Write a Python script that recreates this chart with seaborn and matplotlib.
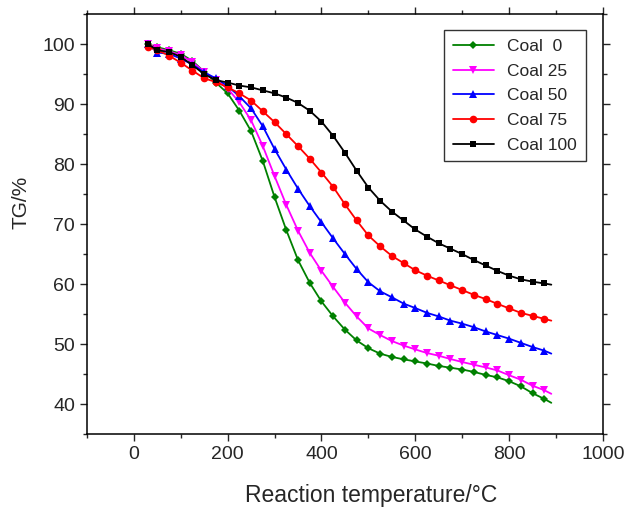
import matplotlib
matplotlib.use("Agg")
import matplotlib.pyplot as plt
from matplotlib.ticker import MultipleLocator
import seaborn as sns
import pandas as pd

# temperature grid (degC)
temp = [30, 50, 75, 100, 125, 150, 175, 200, 225, 250, 275, 300, 325, 350, 375,
        400, 425, 450, 475, 500, 525, 550, 575, 600, 625, 650, 675, 700, 725,
        750, 775, 800, 825, 850, 875, 890]

coal_0 = [100.0, 99.5, 99.0, 98.4, 97.2, 95.4, 93.6, 91.8, 88.9, 85.5, 80.5, 74.5,
          69.0, 64.0, 60.2, 57.1, 54.6, 52.4, 50.6, 49.3, 48.4, 47.85, 47.45, 47.1,
          46.75, 46.35, 46.05, 45.75, 45.35, 44.85, 44.45, 43.8, 42.95, 41.8, 40.85, 40.2]
coal_25 = [100.0, 99.3, 98.8, 98.2, 97.0, 95.4, 94.0, 92.6, 90.3, 87.3, 83.0, 78.0,
           73.2, 68.9, 65.2, 62.2, 59.5, 56.9, 54.6, 52.6, 51.5, 50.5, 49.75, 49.1,
           48.5, 48.05, 47.5, 47.0, 46.55, 46.1, 45.6, 44.8, 44.05, 43.05, 42.3, 41.7]
coal_50 = [100.0, 98.6, 98.4, 97.6, 96.6, 95.3, 94.3, 93.0, 91.3, 89.3, 86.3, 82.5,
           79.1, 75.9, 73.0, 70.3, 67.6, 65.0, 62.5, 60.3, 58.8, 57.8, 56.75, 56.0,
           55.2, 54.6, 53.9, 53.4, 52.8, 52.1, 51.5, 50.9, 50.2, 49.5, 48.9, 48.4]
coal_75 = [99.6, 99.0, 98.1, 96.9, 95.6, 94.3, 93.7, 92.8, 91.8, 90.6, 88.8, 87.0,
           85.0, 83.0, 80.9, 78.6, 76.2, 73.3, 70.6, 68.1, 66.3, 64.7, 63.5, 62.3,
           61.4, 60.6, 59.8, 59.0, 58.2, 57.5, 56.7, 55.95, 55.2, 54.7, 54.2, 53.9]
coal_100 = [100.0, 99.0, 98.7, 97.9, 96.5, 95.0, 94.0, 93.6, 93.1, 92.8, 92.3, 91.8,
            91.1, 90.2, 88.9, 87.1, 84.7, 81.9, 78.9, 76.1, 73.9, 72.1, 70.6, 69.1,
            67.9, 66.8, 65.9, 65.0, 64.0, 63.1, 62.2, 61.4, 60.8, 60.4, 60.1, 59.9]

labels = ["Coal  0", "Coal 25", "Coal 50", "Coal 75", "Coal 100"]
series = [coal_0, coal_25, coal_50, coal_75, coal_100]
colors = ["#008000", "#ff00ff", "#0000ff", "#ff0000", "#000000"]
markers = ["D", "v", "^", "o", "s"]
msizes = [4.5, 5.5, 5.5, 5.5, 5]

sns.set_style("ticks")
plt.rcParams["font.family"] = ["Liberation Sans", "DejaVu Sans"]

fig = plt.figure(figsize=(6.3, 5.07), dpi=100)
ax = fig.add_axes([0.138, 0.144, 0.819, 0.828])

for lab, vals, c, m, ms in zip(labels, series, colors, markers, msizes):
    df = pd.DataFrame({"T": temp, "TG": vals})
    sns.lineplot(data=df, x="T", y="TG", ax=ax, color=c, marker=m,
                 markersize=ms, markeredgewidth=0, linewidth=1.3,
                 markevery=list(range(len(temp) - 1)), label=lab)

ax.set_xlim(-100, 1000)
ax.set_ylim(35, 105)
ax.xaxis.set_major_locator(MultipleLocator(200))
ax.xaxis.set_minor_locator(MultipleLocator(100))
ax.yaxis.set_minor_locator(MultipleLocator(5))
ax.set_yticks([40, 50, 60, 70, 80, 90, 100])
ax.tick_params(which="both", direction="out", top=True, right=True,
               labeltop=False, labelright=False, labelsize=14, width=1)
ax.tick_params(which="major", length=5)
ax.tick_params(which="minor", length=3)
for s in ax.spines.values():
    s.set_linewidth(1.1)
    s.set_color("black")

ax.set_xlabel("Reaction temperature/°C", fontsize=16.5)
ax.xaxis.set_label_coords(0.55, -0.12)
ax.set_ylabel("TG/%", fontsize=15,
              family=["Liberation Sans Narrow", "Liberation Sans", "DejaVu Sans"])
ax.yaxis.set_label_coords(-0.11, 0.552)

leg = ax.legend(loc="upper right", bbox_to_anchor=(0.967, 0.962), borderaxespad=0,
                fontsize=12.5, frameon=True, fancybox=False, handlelength=2.35,
                labelspacing=0.55, borderpad=0.5)
leg.get_frame().set_edgecolor("black")
leg.get_frame().set_linewidth(1.0)

fig.savefig("out.png", dpi=100)
